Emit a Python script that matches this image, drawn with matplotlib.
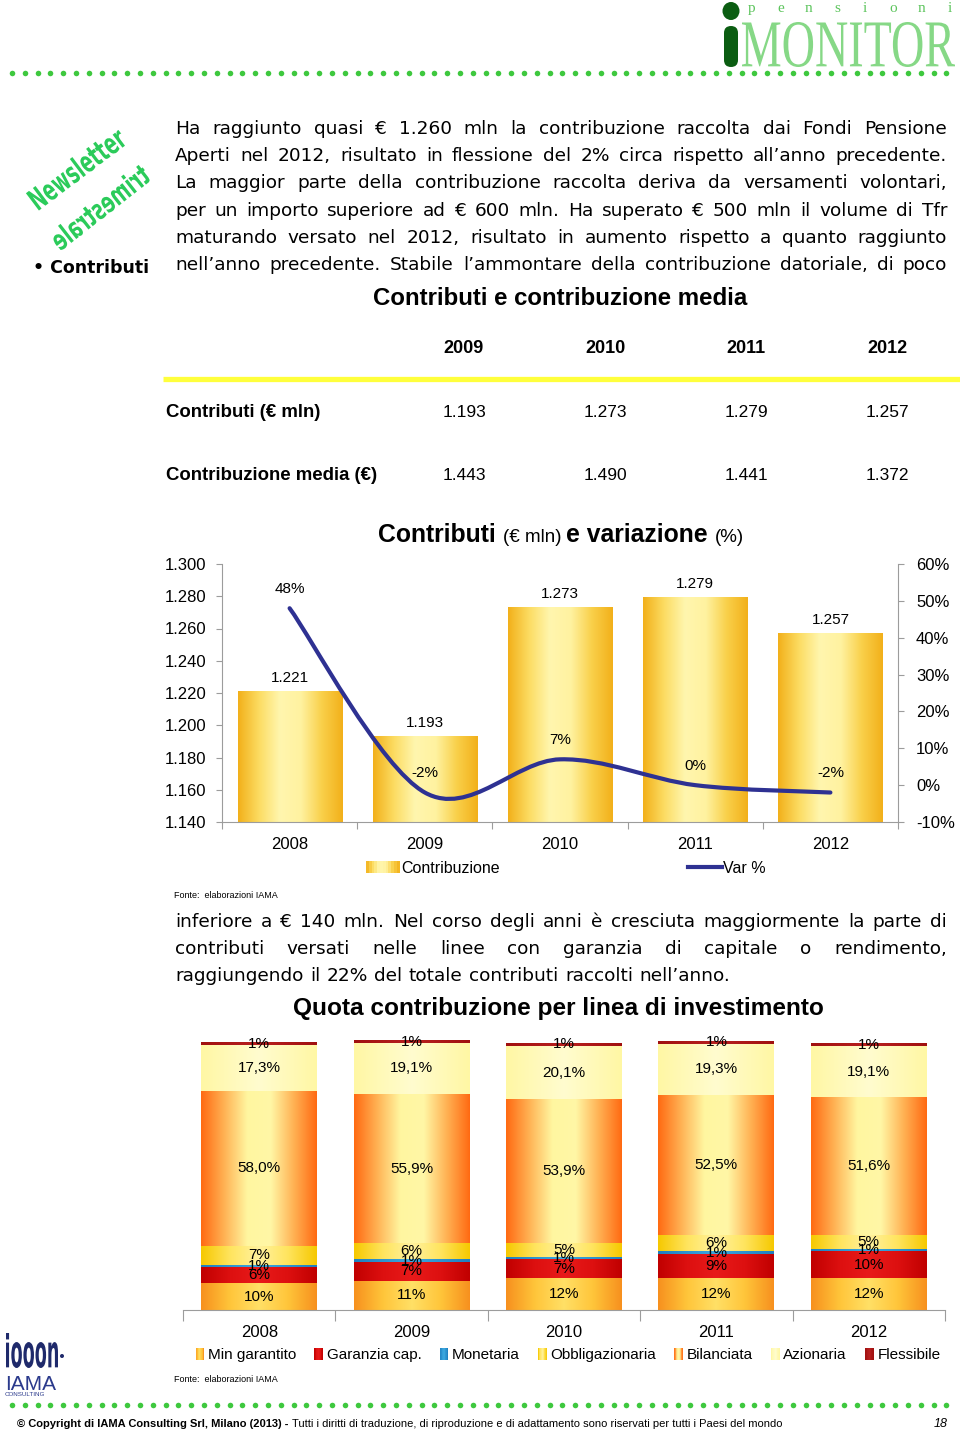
import numpy as np
import matplotlib
matplotlib.use('Agg')
import matplotlib.pyplot as plt
from matplotlib.colors import LinearSegmentedColormap
from matplotlib.patches import Rectangle, PathPatch, Ellipse, FancyBboxPatch
from matplotlib.path import Path
from matplotlib.textpath import TextPath
from matplotlib.font_manager import FontProperties, fontManager
from matplotlib.transforms import Affine2D
from matplotlib.legend_handler import HandlerBase
from matplotlib.lines import Line2D

W, H = 960, 1432

# ---- data ----
tab_years = ['2009', '2010', '2011', '2012']
tab_contributi = ['1.193', '1.273', '1.279', '1.257']
tab_media = ['1.443', '1.490', '1.441', '1.372']

years = ['2008', '2009', '2010', '2011', '2012']
contributi = [1221, 1193, 1273, 1279, 1257]
var_pct = [48, -2, 7, 0, -2]

linee = ['Min garantito', 'Garanzia cap.', 'Monetaria', 'Obbligazionaria',
         'Bilanciata', 'Azionaria', 'Flessibile']
min_garantito = [10, 11, 12, 12, 12]
garanzia_cap = [6, 7, 7, 9, 10]
monetaria = [1, 1, 1, 1, 1]
obbligazionaria = [7, 6, 5, 6, 5]
bilanciata = [58.0, 55.9, 53.9, 52.5, 51.6]
azionaria = [17.3, 19.1, 20.1, 19.3, 19.1]
flessibile = [1, 1, 1, 1, 1]
quote = [min_garantito, garanzia_cap, monetaria, obbligazionaria, bilanciata, azionaria, flessibile]
decimali = [0, 0, 0, 0, 1, 1, 0]

par1 = ["Ha raggiunto quasi € 1.260 mln la contribuzione raccolta dai Fondi Pensione",
        "Aperti nel 2012, risultato in flessione del 2% circa rispetto all’anno precedente.",
        "La maggior parte della contribuzione raccolta deriva da versamenti volontari,",
        "per un importo superiore ad € 600 mln. Ha superato € 500 mln il volume di Tfr",
        "maturando versato nel 2012, risultato in aumento rispetto a quanto raggiunto",
        "nell’anno precedente. Stabile l’ammontare della contribuzione datoriale, di poco"]
par2 = ["inferiore a € 140 mln. Nel corso degli anni è cresciuta maggiormente la parte di",
        "contributi versati nelle linee con garanzia di capitale o rendimento,",
        "raggiungendo il 22% del totale contributi raccolti nell’anno."]

installed = {f.name for f in fontManager.ttflist}
SANS = 'Liberation Sans'
NARROW = 'Liberation Sans Narrow' if 'Liberation Sans Narrow' in installed else 'Liberation Sans'
BODY = 'DejaVu Sans'

fig = plt.figure(figsize=(9.6, 14.32), dpi=100)
page = fig.add_axes([0, 0, 1, 1])
page.set_xlim(0, W)
page.set_ylim(H, 0)
page.axis('off')
renderer = fig.canvas.get_renderer()


def wid(t):
    return t.get_window_extent(renderer).width


def box(x0, y0, x1, y1):
    return [x0 / W, 1 - y1 / H, (x1 - x0) / W, (y1 - y0) / H]


def justify(line, y, x0=175, x1=947, last=False, size=13.3):
    words = line.split()
    ts = [page.text(x0, y, w, va='baseline', ha='left', family=BODY, fontsize=size) for w in words]
    ws = [wid(t) for t in ts]
    gap = (x1 - x0 - sum(ws)) / (len(words) - 1)
    if last:
        gap = 0.35 * size * 100 / 72
    x = x0
    for t, w in zip(ts, ws):
        t.set_x(x)
        x += w + gap


def rich(parts, xc, y):
    # parts: (text, size, weight)
    ts = [page.text(0, y, s, va='baseline', family=SANS, fontsize=sz, fontweight=wt) for s, sz, wt in parts]
    ws = [wid(t) for t in ts]
    gaps = [0.28 * sz * 100 / 72 for s, sz, wt in parts]
    total = sum(ws) + sum(gaps[:-1])
    x = xc - total / 2
    for t, w, g in zip(ts, ws, gaps):
        t.set_x(x)
        x += w + g


def path_in_box(s, x0, y0, x1, y1, color, family, weight='normal'):
    tp = TextPath((0, 0), s, size=100, prop=FontProperties(family=family, weight=weight))
    bb = tp.get_extents()
    tr = Affine2D().translate(-bb.x0, -bb.y0).scale((x1 - x0) / bb.width, -(y1 - y0) / bb.height).translate(x0, y1)
    page.add_patch(PathPatch(tr.transform_path(tp), fc=color, ec='none'))


def path_rot(s, cx, cy, length, height, angle, color, mirror=False):
    tp = TextPath((0, 0), s, size=100, prop=FontProperties(family=BODY, weight='bold'))
    bb = tp.get_extents()
    kx, ky = length / bb.width, height / bb.height
    tr = (Affine2D().translate(-(bb.x0 + bb.x1) / 2, -(bb.y0 + bb.y1) / 2)
          .scale(-kx if mirror else kx, ky).rotate_deg(angle).scale(1, -1).translate(cx, cy))
    page.add_patch(PathPatch(tr.transform_path(tp), fc=color, ec='none'))


class GradHandler(HandlerBase):
    def __init__(self, cmap):
        super().__init__()
        self.cmap = cmap

    def create_artists(self, legend, orig_handle, xdescent, ydescent, width, height, fontsize, trans):
        n = 12
        return [Rectangle((-xdescent + width * i / n, -ydescent), width / n + 0.3, height,
                          fc=self.cmap((i + 0.5) / n), ec='none', transform=trans) for i in range(n)]


def cm(cols):
    return LinearSegmentedColormap.from_list('g', cols)


def grad_fill(ax, bar, cmap, z=2):
    x, y = bar.get_x(), bar.get_y()
    w, h = bar.get_width(), bar.get_height()
    ax.imshow(np.linspace(0, 1, 256).reshape(1, -1), cmap=cmap, extent=(x, x + w, y, y + h),
              aspect='auto', origin='lower', clip_path=bar, zorder=z, interpolation='bilinear')


# ---- header / footer decorations ----
dots = np.arange(12, 958, 12.8)
page.plot(dots, [73] * len(dots), 'o', ms=4, color='#3EC83E', mec='none')
page.plot(dots, [1405] * len(dots), 'o', ms=4, color='#3EC83E', mec='none')

path_in_box('MONITOR', 742, 22, 955, 67, '#86D886', 'Liberation Serif')
page.add_patch(FancyBboxPatch((724, 26), 14, 41, boxstyle='round,pad=0,rounding_size=7', fc='#0B5D12', ec='none'))
page.add_patch(Ellipse((731, 11), 17, 18, fc='#0B5D12', ec='none'))
for xi, ch in zip(np.linspace(752, 950, 8), 'pensioni'):
    page.text(xi, 12, ch, ha='center', va='baseline', family='Liberation Serif', fontsize=11, color='#5CC45C')

path_rot('Newsletter', 77, 168, 112, 23, 37, '#2BCB5A')
path_rot('trimestrale', 100, 207, 116, 22, 38, '#2BCB5A', mirror=True)
page.text(33, 268, '• Contributi', fontweight='bold', fontsize=12.5, family=BODY, va='center')

# iama logo
path_in_box('iooon', 6, 1333, 58, 1368, '#1F2A6B', BODY, weight='bold')
page.add_patch(Ellipse((62, 1356), 4, 4, fc='#1F2A6B', ec='none'))
page.text(5, 1390, 'IAMA', family=SANS, fontsize=15, color='#2B3A8C', va='baseline')
page.text(5, 1396, 'CONSULTING', family=SANS, fontsize=4.5, color='#2B3A8C', va='baseline')

t1 = page.text(17, 1427, '© Copyright di IAMA Consulting Srl, Milano (2013) -', family=NARROW,
               fontsize=8, fontweight='bold', va='baseline')
page.text(17 + wid(t1) + 4, 1427, 'Tutti i diritti di traduzione, di riproduzione e di adattamento sono '
          'riservati per tutti i Paesi del mondo', family=NARROW, fontsize=8, va='baseline')
page.text(948, 1427, '18', family=SANS, fontsize=9, style='italic', ha='right', va='baseline')

# ---- paragraphs ----
for i, ln in enumerate(par1):
    justify(ln, 134 + i * 27.2)
for i, ln in enumerate(par2):
    justify(ln, 927 + i * 27.2, last=(i == len(par2) - 1))

# ---- table ----
rich([('Contributi e contribuzione media', 17.3, 'bold')], 560, 305)
xs_tab = [464, 605, 746, 887]
for xc, yr, c, m in zip(xs_tab, tab_years, tab_contributi, tab_media):
    page.text(xc, 353, yr, ha='center', va='baseline', family=SANS, fontsize=13, fontweight='bold')
    page.text(xc, 417, c, ha='center', va='baseline', family=SANS, fontsize=12.5)
    page.text(xc, 480, m, ha='center', va='baseline', family=SANS, fontsize=12.5)
page.plot([163, 960], [379, 379], color='#FFFF3C', lw=3.8, solid_capstyle='butt')
page.text(166, 417, 'Contributi (€ mln)', va='baseline', family=SANS, fontsize=13.4, fontweight='bold')
page.text(166, 480, 'Contribuzione media (€)', va='baseline', family=SANS, fontsize=13.4, fontweight='bold')

# ---- chart 1: contributi e variazione ----
rich([('Contributi', 17.8, 'bold'), ('(€ mln)', 13.5, 'normal'), ('e variazione', 17.8, 'bold'),
      ('(%)', 13.5, 'normal')], 561, 542)

grey = '#9C9C9C'
cmap_bar = cm(['#F2B01A', '#FCDC62', '#FFF6AE', '#FFF2A0', '#F9D04A', '#F2B01A'])
x = np.arange(len(years))
ax1 = fig.add_axes(box(222, 564, 898, 822))
bars = ax1.bar(x, contributi, width=0.77, color='none', edgecolor='none')
for b in bars:
    grad_fill(ax1, b, cmap_bar)
for xi, v in zip(x, contributi):
    ax1.text(xi, v + 4, f'{v:,}'.replace(',', '.'), ha='center', va='bottom', family=SANS, fontsize=11)
ax1.set_xlim(-0.5, 4.5)
ax1.set_ylim(1140, 1300)
yt = np.arange(1140, 1301, 20)
ax1.set_yticks(yt)
ax1.set_yticklabels([f'{v:,}'.replace(',', '.') for v in yt], family=SANS, fontsize=12)
ax1.set_xticks(np.arange(-0.5, 5, 1))
ax1.set_xticklabels([])
ax1.set_xticks(x, minor=True)
ax1.set_xticklabels(years, minor=True, family=SANS, fontsize=12)
ax1.tick_params(axis='x', which='minor', length=0, pad=11)
ax1.tick_params(axis='x', which='major', length=5, color=grey)
ax1.tick_params(axis='y', length=4, color=grey, pad=7)
for s in ['top', 'right']:
    ax1.spines[s].set_visible(False)
for s in ['left', 'bottom']:
    ax1.spines[s].set_color(grey)
ax1.patch.set_alpha(0)

ax1b = ax1.twinx()
ax1b.set_ylim(-10, 60)
pt = np.arange(-10, 61, 10)
ax1b.set_yticks(pt)
ax1b.set_yticklabels([f'{v}%' for v in pt], family=SANS, fontsize=12)
ax1b.tick_params(axis='y', length=4, color=grey, pad=9)
for s in ['top', 'left', 'bottom']:
    ax1b.spines[s].set_visible(False)
ax1b.spines['right'].set_color(grey)

# smoothed line (bezier through the points)
P = np.column_stack([x, var_pct]).astype(float)
Pe = np.vstack([P[0], P, P[-1]])
verts = [P[0]]
codes = [Path.MOVETO]
for i in range(len(P) - 1):
    p0, p1, p2, p3 = Pe[i], Pe[i + 1], Pe[i + 2], Pe[i + 3]
    verts += [p1 + (p2 - p0) / 6, p2 - (p3 - p1) / 6, p2]
    codes += [Path.CURVE4] * 3
line_col = '#2E3192'
ax1b.add_patch(PathPatch(Path(verts, codes), fc='none', ec=line_col, lw=3.0, capstyle='round', zorder=3))
for xi, v in zip(x, var_pct):
    ax1b.annotate(f'{v}%', (xi, v), xytext=(0, 9), textcoords='offset points', ha='center',
                  va='bottom', family=SANS, fontsize=11)

h_bar = Rectangle((0, 0), 1, 1)
h_line = Line2D([], [], color=line_col, lw=3)
ax1b.legend([h_bar, h_line], ['Contribuzione', 'Var %'], handler_map={h_bar: GradHandler(cmap_bar)},
            loc='center', bbox_to_anchor=(566 / W, 1 - 868 / H), bbox_transform=fig.transFigure,
            ncol=2, frameon=False, handlelength=2.1, handletextpad=0.1, columnspacing=11.8,
            prop=FontProperties(family=SANS, size=11.5), borderpad=0, borderaxespad=0)

page.text(174, 896, 'Fonte:  elaborazioni IAMA', family=NARROW, fontsize=6.5, va='center')

# ---- chart 2: quota per linea ----
rich([('Quota contribuzione per linea di investimento', 17.6, 'bold')], 558, 1015)

cmaps = [cm(['#F7901E', '#FFC53A', '#FFE066', '#FFC53A', '#F7901E']),
         cm(['#C00000', '#DD1010', '#E81A1A', '#DD1010', '#C00000']),
         cm(['#1F7FBF', '#3CA8E0', '#1F7FBF']),
         cm(['#F6C800', '#FFE45E', '#FFF29E', '#FFE45E', '#F6C800']),
         cm(['#FF6A12', '#FFB254', '#FFF6A0', '#FFF7A6', '#FFB254', '#FF6A12']),
         cm(['#FFF7A4', '#FFFCCF', '#FFF7A4']),
         cm(['#A01010', '#B82020', '#A01010'])]

ax2 = fig.add_axes(box(183, 1310 - 2.67 * 101, 945, 1310))
bottom = np.zeros(len(years))
for serie, vals, cmp, dec in zip(linee, quote, cmaps, decimali):
    bs = ax2.bar(x, vals, bottom=bottom, width=0.76, color='none', edgecolor='none')
    for b in bs:
        grad_fill(ax2, b, cmp)
    for xi, v, b0 in zip(x, vals, bottom):
        lab = (f'{v:.1f}'.replace('.', ',') if dec else f'{v:.0f}') + '%'
        ax2.text(xi, b0 + v / 2, lab, ha='center', va='center', family=SANS, fontsize=11, zorder=5)
    bottom = bottom + np.array(vals)
ax2.set_xlim(-0.5, 4.5)
ax2.set_ylim(0, 101)
ax2.set_yticks([])
ax2.set_xticks(np.arange(-0.5, 5, 1))
ax2.set_xticklabels([])
ax2.set_xticks(x, minor=True)
ax2.set_xticklabels(years, minor=True, family=SANS, fontsize=12)
ax2.tick_params(axis='x', which='minor', length=0, pad=11)
ax2.tick_params(axis='x', which='major', length=8, color=grey)
for s in ['top', 'right', 'left']:
    ax2.spines[s].set_visible(False)
ax2.spines['bottom'].set_color(grey)
ax2.patch.set_alpha(0)

hs = [Rectangle((0, 0), 1, 1) for _ in linee]
ax2.legend(hs, linee, handler_map={h: GradHandler(c) for h, c in zip(hs, cmaps)},
           loc='center', bbox_to_anchor=(568 / W, 1 - 1355 / H), bbox_transform=fig.transFigure,
           ncol=7, frameon=False, handlelength=0.55, handleheight=0.8, handletextpad=0.25,
           columnspacing=1.2, prop=FontProperties(family=SANS, size=11), borderpad=0, borderaxespad=0)

page.text(174, 1380, 'Fonte:  elaborazioni IAMA', family=NARROW, fontsize=6.5, va='center')

fig.savefig('out.png', dpi=100)
